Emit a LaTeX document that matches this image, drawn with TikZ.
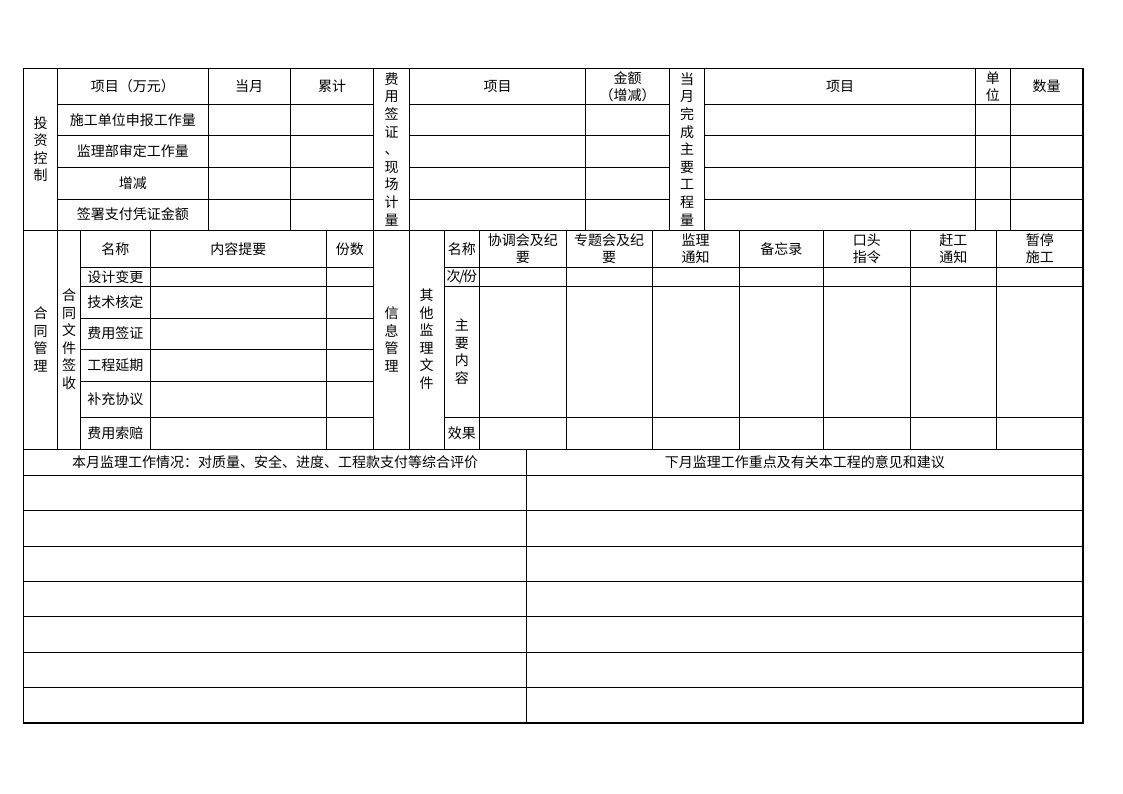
\documentclass[tikz,border=0pt]{standalone}
\usepackage{fontspec}
\newfontfamily\cjk{Noto Sans CJK SC}
\begin{document}
\begin{tikzpicture}[x=1pt,y=-1pt,
  ln/.style={line width=0.8pt},
  outer/.style={line width=1.1pt},
  txt/.style={font=\cjk\fontsize{14}{17}\selectfont, inner sep=0pt, align=center},
  vtxt/.style={font=\cjk\fontsize{14}{17.6}\selectfont, inner sep=0pt, align=center}]
\fill[white] (0,0) rectangle (1123,794);
\useasboundingbox (0,0) rectangle (1123,794);
% ---------- section 1 lines ----------
\foreach \y in {104,135.5,167,199}{
  \draw[ln] (57.7,\y) -- (373.7,\y);
  \draw[ln] (409.4,\y) -- (669.5,\y);
  \draw[ln] (704.5,\y) -- (1083,\y);
}
\foreach \x in {208,290,585.7,669.5,704.5,975.5,1010}{
  \draw[ln] (\x,68.5) -- (\x,230);
}
\foreach \x in {57.7,373.7,409.4}{
  \draw[ln] (\x,68.5) -- (\x,449);
}
\draw[ln] (23.5,230) -- (1083,230);
% ---------- section 2 lines ----------
\foreach \x in {80.3,150.3,326.3,444,479.5,566,652.3,739,823.5,910,996.5}{
  \draw[ln] (\x,230) -- (\x,449);
}
\foreach \y in {267.7,286,318.3,349,381,417.7}{
  \draw[ln] (80.3,\y) -- (373.7,\y);
}
\foreach \y in {267.7,286,417.7}{
  \draw[ln] (444,\y) -- (1083,\y);
}
\draw[ln] (23.5,449) -- (1083,449);
% ---------- section 3 lines ----------
\foreach \y in {475.3,510.6,546,581.4,616.8,652.2,687.6}{
  \draw[ln] (23.5,\y) -- (1083,\y);
}
\draw[ln] (526.5,449) -- (526.5,723);
\draw[outer] (23.5,68.5) rectangle (1083,723);
% ---------- section 1 texts ----------
\node[vtxt] (tzkz) at (40.6,149.25) {投\\资\\控\\制};
\node[txt] (xm1) at (132.85,86.25) {项目（万元）};
\node[txt] (dy) at (249,86.25) {当月};
\node[txt] (lj) at (332,86.25) {累计};
\node[txt] (sg) at (132.85,119.75) {施工单位申报工作量};
\node[txt] (jl) at (132.85,151.25) {监理部审定工作量};
\node[txt] (zj) at (132.85,183) {增减};
\node[txt] (qs) at (132.85,214.5) {签署支付凭证金额};
\node[vtxt] (fyqz) at (391.6,149.25) {费\\用\\签\\证\\、\\现\\场\\计\\量};
\node[txt] (xm2) at (497.6,86.25) {项目};
\node[txt] (je) at (627.6,86.25) {金额\\（增减）};
\node[vtxt] (dywc) at (687,149.25) {当\\月\\完\\成\\主\\要\\工\\程\\量};
\node[txt] (xm3) at (840,86.25) {项目};
\node[txt] (dw) at (992.75,86.25) {单\\位};
\node[txt] (sl) at (1046.5,86.25) {数量};
% ---------- section 2 texts ----------
\node[vtxt] (htgl) at (40.6,339.25) {合\\同\\管\\理};
\node[vtxt] (htwj) at (69,339.25) {合\\同\\文\\件\\签\\收};
\node[txt] (mc1) at (115.3,248.85) {名称};
\node[txt] (nrty) at (238.3,248.85) {内容提要};
\node[txt] (fs) at (349.8,248.85) {份数};
\node[txt] (sjbg) at (115.3,276.85) {设计变更};
\node[txt] (jshd) at (115.3,302.15) {技术核定};
\node[txt] (fyqz2) at (115.3,333.65) {费用签证};
\node[txt] (gcyq) at (115.3,365) {工程延期};
\node[txt] (bcxy) at (115.3,399.35) {补充协议};
\node[txt] (fysp) at (115.3,433.1) {费用索赔};
\node[vtxt] (xxgl) at (391.5,339.25) {信\\息\\管\\理};
\node[vtxt] (qtjl) at (426.7,339.25) {其\\他\\监\\理\\文\\件};
\node[txt] (mc2) at (461.75,248.85) {名称};
\node[txt] (cf) at (461.75,276.85) {次\kern-1.5pt/\kern-1.5pt份};
\node[vtxt] (zynr) at (461.75,351.85) {主\\要\\内\\容};
\node[txt] (xg) at (461.75,433.1) {效果};
\node[txt] (xthy) at (522.75,248.85) {协调会及纪\\要};
\node[txt] (ztzy) at (609.15,248.85) {专题会及纪\\要};
\node[txt] (jltz) at (695.65,248.85) {监理\\通知};
\node[txt] (bwl) at (781.25,248.85) {备忘录};
\node[txt] (ktzl) at (866.75,248.85) {口头\\指令};
\node[txt] (ggtz) at (953.25,248.85) {赶工\\通知};
\node[txt] (ztsg) at (1039.75,248.85) {暂停\\施工};
% ---------- section 3 texts ----------
\node[txt] (byjl) at (275,462.2) {本月监理工作情况：对质量、安全、进度、工程款支付等综合评价};
\node[txt] (xyjl) at (804.75,462.2) {下月监理工作重点及有关本工程的意见和建议};
\end{tikzpicture}
\end{document}
